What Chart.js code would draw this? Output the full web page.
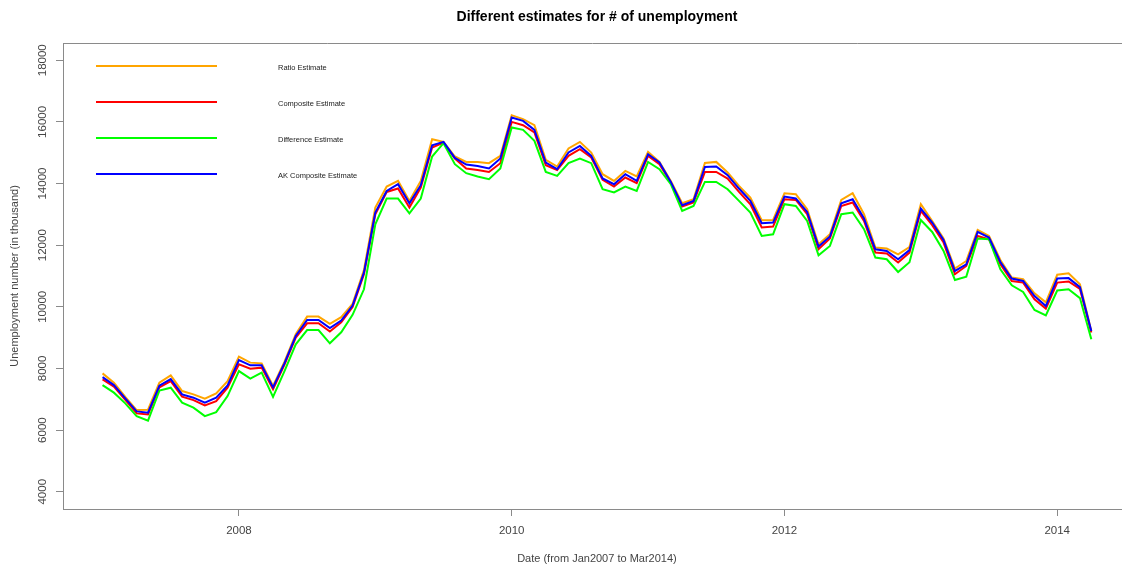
<!DOCTYPE html>
<html>
<head>
<meta charset="utf-8">
<title>Different estimates for # of unemployment</title>
<script src="https://cdn.jsdelivr.net/npm/chart.js@4/dist/chart.umd.min.js"></script>
<style>
  html, body { margin: 0; padding: 0; background: #ffffff; }
  canvas { display: block; }
</style>
</head>
<body>
<canvas id="chart" width="1122" height="567"></canvas>
<script>
// Monthly observations, starting January 2007 (decimal-year positions)
const startYear = 2007;
const monthCount = 88;
const months = Array.from({ length: monthCount }, (_, i) => startYear + i / 12);

// Unemployment estimates, in thousands
const ratioEst = [
  7841, 7539, 7078, 6650, 6663, 7539, 7776, 7266, 7159, 7020, 7192, 7591,
  8383, 8189, 8166, 7435, 8215, 9108, 9682, 9682, 9448, 9666, 10098, 11195,
  13221, 13903, 14085, 13436, 14085, 15439, 15352, 14877, 14702, 14702, 14660, 14897,
  16218, 16089, 15894, 14767, 14553, 15137, 15352, 15007, 14303, 14085, 14410, 14228,
  15027, 14702, 14085, 13361, 13491, 14670, 14702, 14358, 13923, 13546, 12809, 12819,
  13686, 13653, 13166, 12030, 12355, 13468, 13686, 13004, 11923, 11890, 11705, 11939,
  13329, 12786, 12215, 11241, 11488, 12494, 12299, 11520, 10949, 10893, 10439, 10147,
  11040, 11088, 10731, 9215
];
const compositeEst = [
  7646, 7409, 6981, 6542, 6510, 7387, 7591, 7085, 6974, 6802, 6942, 7377,
  8133, 7994, 8026, 7322, 8117, 9000, 9465, 9465, 9198, 9497, 9991, 11056,
  13004, 13728, 13838, 13221, 13871, 15170, 15325, 14813, 14488, 14442, 14377, 14660,
  16001, 15894, 15657, 14595, 14442, 14897, 15114, 14845, 14118, 13903, 14196, 14011,
  14897, 14628, 14033, 13254, 13384, 14377, 14377, 14163, 13728, 13329, 12572, 12605,
  13491, 13468, 13004, 11867, 12215, 13273, 13384, 12786, 11760, 11728, 11436, 11760,
  13111, 12647, 12085, 11056, 11325, 12299, 12192, 11380, 10838, 10786, 10244, 9942,
  10786, 10822, 10582, 9163
];
const differenceEst = [
  7461, 7215, 6867, 6455, 6309, 7280, 7377, 6890, 6727, 6455, 6585, 7104,
  7916, 7669, 7864, 7078, 7906, 8783, 9247, 9247, 8815, 9172, 9741, 10569,
  12679, 13514, 13514, 13036, 13514, 14877, 15309, 14628, 14335, 14228, 14140, 14488,
  15819, 15741, 15384, 14377, 14248, 14660, 14813, 14660, 13816, 13709, 13903, 13760,
  14702, 14465, 13978, 13111, 13273, 14053, 14053, 13816, 13436, 13059, 12299, 12355,
  13329, 13273, 12786, 11673, 11975, 13004, 13059, 12517, 11598, 11543, 11130, 11445,
  12819, 12429, 11812, 10871, 10981, 12215, 12192, 11218, 10699, 10481, 9897, 9724,
  10530, 10569, 10283, 8945
];
const akCompositeEst = [
  7721, 7461, 7029, 6607, 6565, 7442, 7653, 7159, 7052, 6890, 7052, 7452,
  8273, 8101, 8101, 7387, 8166, 9052, 9572, 9572, 9309, 9556, 10039, 11111,
  13059, 13760, 13978, 13361, 13946, 15244, 15352, 14832, 14618, 14572, 14488, 14813,
  16144, 16033, 15741, 14683, 14465, 15007, 15222, 14897, 14163, 13978, 14303, 14085,
  14952, 14683, 14053, 13296, 13436, 14537, 14553, 14270, 13838, 13436, 12712, 12734,
  13579, 13514, 13079, 11955, 12280, 13361, 13491, 12864, 11867, 11812, 11543, 11841,
  13189, 12734, 12169, 11163, 11380, 12429, 12247, 11455, 10916, 10838, 10351, 10026,
  10916, 10932, 10640, 9215
];

const seriesLabels = ['Ratio Estimate', 'Composite Estimate', 'Difference Estimate', 'AK Composite Estimate'];
const seriesColors = ['#FFA500', '#FF0000', '#00FF00', '#0000FF'];
const xTicks = [2008, 2010, 2012, 2014];
const yTicks = [4000, 6000, 8000, 10000, 12000, 14000, 16000, 18000];

const FONT = '"Liberation Sans", Arial, Helvetica, sans-serif';
const AXIS_GREY = '#8a8a8a';
const TEXT_GREY = '#444444';

const toPoints = vals => vals.map((v, i) => ({ x: months[i], y: v }));
const seriesValues = [ratioEst, compositeEst, differenceEst, akCompositeEst];

// Frame, rotated y labels, titles and the in-plot legend
const decorations = {
  id: 'decorations',
  afterDraw(chart) {
    const { ctx, chartArea: a, scales: { x, y } } = chart;
    ctx.save();

    // top edge of the plot frame
    ctx.strokeStyle = AXIS_GREY;
    ctx.lineWidth = 1;
    ctx.beginPath();
    ctx.moveTo(a.left, Math.round(a.top) + 0.5);
    ctx.lineTo(a.right, Math.round(a.top) + 0.5);
    ctx.stroke();

    // y tick labels, reading bottom to top
    ctx.fillStyle = TEXT_GREY;
    ctx.font = '11.5px ' + FONT;
    ctx.textAlign = 'center';
    ctx.textBaseline = 'middle';
    y.ticks.forEach(t => {
      ctx.save();
      ctx.translate(43, y.getPixelForValue(t.value));
      ctx.rotate(-Math.PI / 2);
      ctx.fillText(String(t.value), 0, 0);
      ctx.restore();
    });

    // titles centred on the span of the dates
    const cx = x.getPixelForValue((months[0] + months[months.length - 1]) / 2);
    ctx.fillStyle = '#000000';
    ctx.font = 'bold 14px ' + FONT;
    ctx.fillText('Different estimates for # of unemployment', cx, 17);

    ctx.fillStyle = TEXT_GREY;
    ctx.font = '11px ' + FONT;
    ctx.fillText('Date (from Jan2007 to Mar2014)', cx, 559);

    ctx.save();
    ctx.translate(15, (a.top + a.bottom) / 2);
    ctx.rotate(-Math.PI / 2);
    ctx.fillText('Unemployment number (in thousand)', 0, 0);
    ctx.restore();

    // legend
    chart.data.datasets.forEach((ds, i) => {
      const ly = 66 + i * 36;
      ctx.strokeStyle = ds.borderColor;
      ctx.lineWidth = 2;
      ctx.beginPath();
      ctx.moveTo(96, ly);
      ctx.lineTo(217, ly);
      ctx.stroke();
      ctx.fillStyle = '#222222';
      ctx.font = '7.5px ' + FONT;
      ctx.textAlign = 'left';
      ctx.fillText(ds.label, 278, ly + 1.5);
    });

    ctx.restore();
  }
};

new Chart(document.getElementById('chart'), {
  type: 'line',
  data: {
    datasets: seriesLabels.map((label, i) => ({
      label,
      data: toPoints(seriesValues[i]),
      borderColor: seriesColors[i],
      backgroundColor: seriesColors[i],
      borderWidth: 2,
      pointRadius: 0,
      tension: 0,
      fill: false,
      order: seriesLabels.length - i
    }))
  },
  options: {
    responsive: false,
    animation: false,
    devicePixelRatio: 1,
    layout: { padding: { top: 43, left: 0, right: 0, bottom: 0 } },
    plugins: {
      legend: { display: false },
      title: { display: false },
      tooltip: { enabled: false }
    },
    scales: {
      x: {
        type: 'linear',
        min: 2006.71,
        max: 2014.475,
        afterBuildTicks: s => { s.ticks = xTicks.map(v => ({ value: v })); },
        afterFit: s => { s.height = 58; },
        ticks: {
          callback: v => String(v),
          color: TEXT_GREY,
          font: { family: FONT, size: 11.5 },
          padding: 8,
          maxRotation: 0,
          autoSkip: false
        },
        grid: { display: true, drawOnChartArea: false, drawTicks: true, tickLength: 7, color: AXIS_GREY },
        border: { display: true, color: AXIS_GREY, width: 1 }
      },
      y: {
        type: 'linear',
        min: 3440,
        max: 18560,
        afterBuildTicks: s => { s.ticks = yTicks.map(v => ({ value: v })); },
        afterFit: s => { s.width = 63; },
        ticks: { display: false },
        grid: { display: true, drawOnChartArea: false, drawTicks: true, tickLength: 7, color: AXIS_GREY },
        border: { display: true, color: AXIS_GREY, width: 1 }
      }
    }
  },
  plugins: [decorations]
});
</script>
</body>
</html>
